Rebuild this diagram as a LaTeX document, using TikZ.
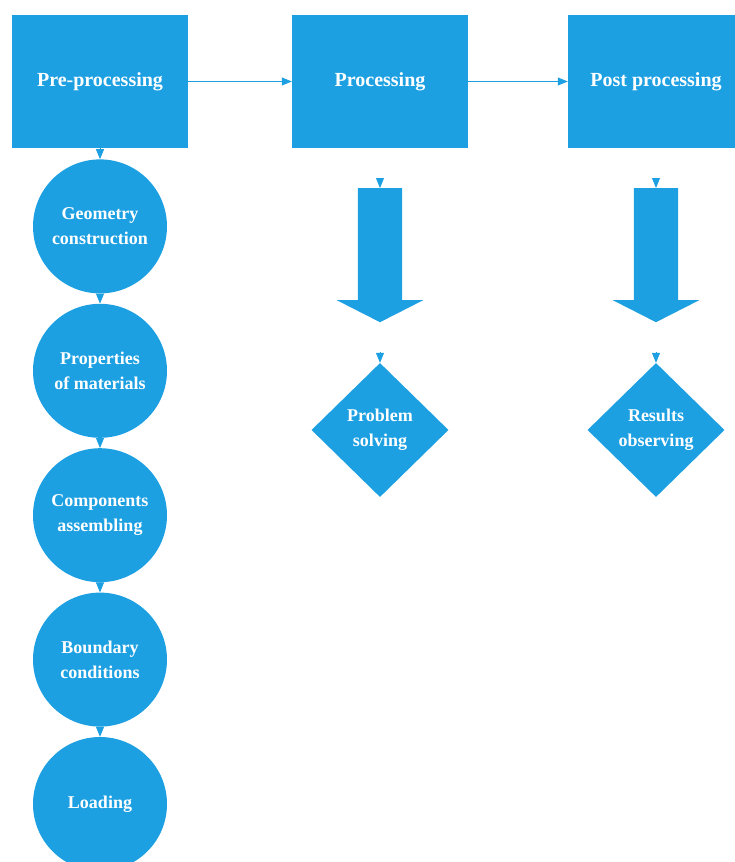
\documentclass[tikz,border=0pt]{standalone}
\usepackage{fontspec}
\setmainfont{Liberation Serif}
\usetikzlibrary{positioning,shapes.geometric,shapes.arrows,arrows.meta}
\definecolor{flowblue}{RGB}{29,160,226}

\begin{document}
\begin{tikzpicture}[x=1pt,y=-1pt,>={Triangle[length=10pt,width=8pt]},
	stage/.style={fill=flowblue,minimum width=176pt,minimum height=133pt,inner sep=0pt,text=white,font=\fontsize{20}{24}\selectfont\bfseries},
	task/.style={circle,fill=flowblue,minimum size=134pt,inner sep=0pt,text=white,align=center,font=\fontsize{18}{25}\selectfont\bfseries},
	check/.style={diamond,fill=flowblue,minimum width=137pt,minimum height=134pt,inner sep=0pt,text=white,align=center,font=\fontsize{18}{25}\selectfont\bfseries},
	bigarrow/.style={single arrow,fill=flowblue,shape border rotate=270,minimum height=134pt,minimum width=86pt,single arrow head extend=21pt,single arrow head indent=0pt,single arrow tip angle=126,inner sep=22pt,anchor=tail},
	link/.style={->,flowblue,line width=0.8pt}]

\useasboundingbox (0,0) rectangle (734,862);

%Stages along the top
	\node[stage] (pre) at (100,81.5) {Pre-processing};
	\node[stage] (proc) at (380,81.5) {Processing};
	\node[stage] (post) at (656,81.5) {Post processing};

	\draw[link] (pre) -- (proc);
	\draw[link] (proc) -- (post);

%Steps of the pre-processing stage
	\node[task,below=11pt of pre] (geom) {Geometry\\construction};
	\node[task,below=10pt of geom] (mat) {Properties\\of materials};
	\node[task,below=10pt of mat] (asm) {Components\\assembling};
	\node[task,below=10pt of asm] (bound) {Boundary\\conditions};
	\node[task,below=10pt of bound] (load) {Loading};

	\foreach \from/\to in {pre/geom,geom/mat,mat/asm,asm/bound,bound/load}
		\draw[link] (\from.south) -- (\to.north);

%Processing and post processing
	\node[bigarrow] (parr) at (380,188) {};
	\node[bigarrow] (rarr) at (656,188) {};
	\node[check] (solve) at (380,430) {Problem\\solving};
	\node[check] (obs) at (656,430) {Results\\observing};

	\draw[link,shorten <=30pt] (proc.south) -- (parr.tail);
	\draw[link,shorten <=30pt] (post.south) -- (rarr.tail);
	\draw[link,shorten <=30pt] (parr.tip) -- (solve.north);
	\draw[link,shorten <=30pt] (rarr.tip) -- (obs.north);

\end{tikzpicture}
\end{document}
